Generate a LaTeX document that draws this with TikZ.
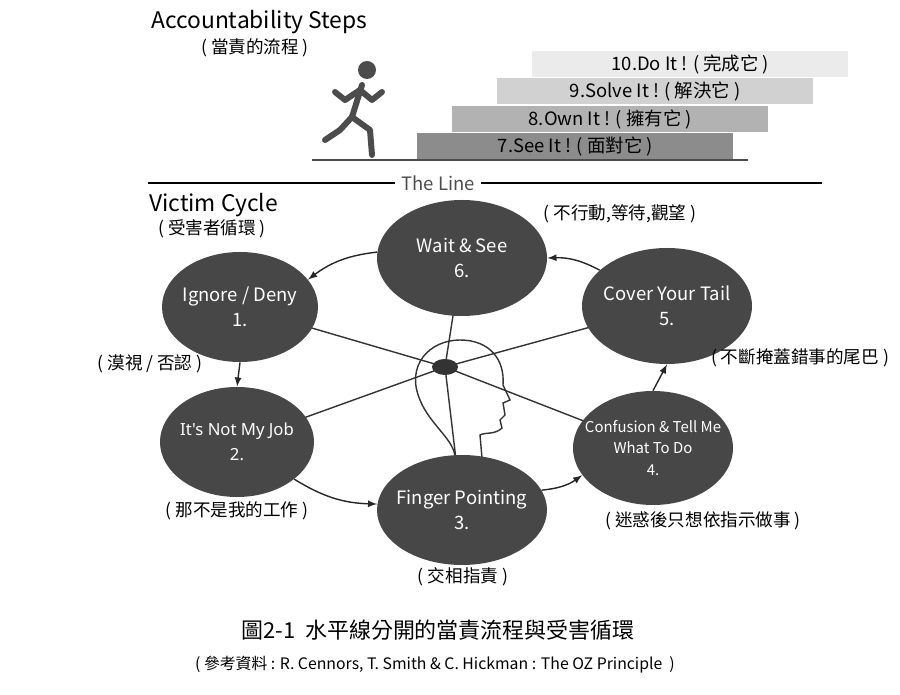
\documentclass[tikz,border=0pt]{standalone}
\usepackage{fontspec}
\setmainfont{Noto Sans CJK TC}
\newfontfamily\latinfont{Noto Sans}
\usetikzlibrary{shapes.geometric}
\begin{document}
\begin{tikzpicture}[x=0.02cm,y=-0.02cm]
  \tikzstyle{cyc_node}  = [shape = ellipse, fill = black!72, inner sep = 0pt, minimum width = 164*0.02cm, minimum height = 112*0.02cm]
  \tikzstyle{cyc_text}  = [text = white, font = \fontsize{10.5}{14}\selectfont, align = center]
  \tikzstyle{cyc_label} = [font = \fontsize{10}{12}\selectfont]
  \tikzstyle{step_bar}  = [minimum width = 316*0.02cm, minimum height = 26*0.02cm, inner sep = 0pt, font = \fontsize{10.5}{12}\selectfont]
  \tikzstyle{flow}      = [->, >=latex, thick, black!85]

  \useasboundingbox (0,0) rectangle (900,695);

  \node[anchor = west, font = \fontsize{13}{15}\selectfont] at (145,22) (t_steps) {Accountability Steps};
  \node[cyc_label] at (255,48) {( 當責的流程 )};

  % runner
  \begin{scope}[black!70, line width = 3.4pt, line cap = round, line join = round]
    \fill (367,70) circle (9);
    \draw (362,85) -- (352,117);
    \draw (360,90) -- (345,100) -- (335,92);
    \draw (360,90) -- (372,100) -- (382,92);
    \draw (352,117) -- (340,130) -- (325,140);
    \draw (352,117) -- (370,130) -- (372,155);
  \end{scope}
  \draw[black!70, thick] (312,160) -- (748,160);

  \node[step_bar, fill = black!45, anchor = north west] at (417,133) (s7)  {7.See It ! ( 面對它 )};
  \node[step_bar, fill = black!30, anchor = north west] at (452,106) (s8)  {8.Own It ! ( 擁有它 )};
  \node[step_bar, fill = black!18, anchor = north west] at (497,78)  (s9)  {9.Solve It ! ( 解決它 )};
  \node[step_bar, fill = black!8,  anchor = north west] at (532,51)  (s10) {10.Do It ! ( 完成它 )};

  % the line
  \node[font = \fontsize{10.5}{12}\selectfont, text = black!70] at (438,183) (line) {The Line};
  \draw[thick] (148,183) -- (line.west);
  \draw[thick] (line.east) -- (822,183);

  \node[anchor = west, font = \fontsize{13}{15}\selectfont] at (143,205) (t_victim) {Victim Cycle};
  \node[cyc_label] at (212,229) {( 受害者循環 )};

  % head
  \coordinate (hub) at (445,367);
  \draw[black!80, thick]
    (455,458) .. controls (455,440) and (430,425) .. (420,400)
    .. controls (405,365) and (430,340) .. (460,340)
    .. controls (490,340) and (505,360) .. (503,385)
    -- (510,400) -- (503,403) -- (505,415) -- (500,420) -- (502,428)
    .. controls (495,435) and (485,432) .. (480,435) -- (482,458);
  \fill[black!80] (hub) ellipse (13 and 8);

  \draw[black!80, thick]
    (240,307) -- (hub) -- (653,448)
    (237,442) -- (hub) -- (667,306)
    (462,258) -- (hub) -- (462,510);

  \node[cyc_node, minimum width = 156*0.02cm, minimum height = 110*0.02cm] at (240,307) (n1) {};
  \node[cyc_node, minimum width = 154*0.02cm, minimum height = 110*0.02cm] at (237,442) (n2) {};
  \node[cyc_node, minimum width = 170*0.02cm, minimum height = 110*0.02cm] at (462,510) (n3) {};
  \node[cyc_node, minimum width = 160*0.02cm, minimum height = 114*0.02cm] at (653,448) (n4) {};
  \node[cyc_node, minimum width = 170*0.02cm, minimum height = 116*0.02cm] at (667,306) (n5) {};
  \node[cyc_node, minimum width = 170*0.02cm, minimum height = 116*0.02cm] at (462,258) (n6) {};

  \node[cyc_text] at (n1) {Ignore / Deny\\1.};
  \node[cyc_text, font = \latinfont\fontsize{9.5}{14}\selectfont] at (n2) {It's Not My Job\\2.};
  \node[cyc_text] at (n3) {Finger Pointing\\3.};
  \node[cyc_text, font = \fontsize{8.5}{12}\selectfont] at (n4) {Confusion \& Tell Me\\What To Do\\4.};
  \node[cyc_text] at (n5) {Cover Your Tail\\5.};
  \node[cyc_text] at (n6) {Wait \& See\\6.};

  \node[cyc_label] at (620,214) {( 不行動,等待,觀望 )};
  \node[cyc_label] at (150,364) {( 漠視 / 否認 )};
  \node[cyc_label] at (800,358) {( 不斷掩蓋錯事的尾巴 )};
  \node[cyc_label] at (237,511) {( 那不是我的工作 )};
  \node[cyc_label] at (463,577) {( 交相指責 )};
  \node[cyc_label] at (703,521) {( 迷惑後只想依指示做事 )};

  \draw[flow] (n6.176) to[bend right = 15] (n1.22);
  \draw[flow] (n1.south) -- (n2.north);
  \draw[flow] (n2.-33) to[bend right = 15] (n3.176);
  \draw[flow] (n3.14) to[bend right = 15] (n4.201);
  \draw[flow] (n4.north) -- (n5.south);
  \draw[flow] (n5.152) to[bend right = 15] (n6.east);

  \node[font = \fontsize{12.5}{14}\selectfont] at (438,630) (caption) {圖2-1\ \ 水平線分開的當責流程與受害循環};
  \node[font = \fontsize{9}{11}\selectfont] at (435,665) (source) {( 參考資料 : R. Cennors, T. Smith \& C. Hickman : The OZ Principle\ \ )};
\end{tikzpicture}
\end{document}
